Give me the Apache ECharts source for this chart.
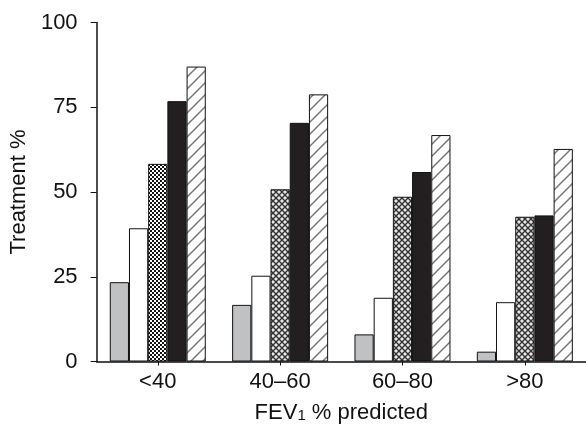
<!DOCTYPE html>
<html><head><meta charset="utf-8">
<script src="https://cdn.jsdelivr.net/npm/echarts@6/dist/echarts.min.js"></script>
<style>html,body{margin:0;padding:0;background:#fff}#c{width:586px;height:430px}</style>
</head><body><div id="c"></div>
<script>
var categories = ['<40', '40\u201360', '60\u201380', '>80'];
var grayVals = [23.4, 16.7, 8.0, 2.9];
var whiteVals = [39.3, 25.3, 18.8, 17.5];
var crossVals = [58.3, 50.8, 48.6, 42.7];
var blackVals = [76.8, 70.4, 55.9, 43.1];
var hatchVals = [87.0, 78.8, 66.8, 62.7];
var yTicks = [0, 25, 50, 75, 100];

var FONT = '"Liberation Sans", Arial, sans-serif';

function makeCanvas(w, h, draw) {
  var c = document.createElement('canvas');
  c.width = w; c.height = h;
  draw(c.getContext('2d'));
  return c;
}
var crossPat = makeCanvas(6, 6, function (g) {
  g.fillStyle = '#e8e8e8'; g.fillRect(0, 0, 6, 6);
  g.strokeStyle = '#333'; g.lineWidth = 1.4;
  g.beginPath();
  g.moveTo(0, 0); g.lineTo(6, 6);
  g.moveTo(6, 0); g.lineTo(0, 6);
  g.stroke();
});
var checkPat = makeCanvas(4, 4, function (g) {
  g.fillStyle = '#fff'; g.fillRect(0, 0, 4, 4);
  g.fillStyle = '#111';
  g.fillRect(0, 0, 2, 2); g.fillRect(2, 2, 2, 2);
});
var hatchPat = makeCanvas(12, 12, function (g) {
  g.fillStyle = '#fff'; g.fillRect(0, 0, 12, 12);
  g.strokeStyle = '#777'; g.lineWidth = 1.5;
  g.beginPath();
  g.moveTo(-1, 13); g.lineTo(13, -1);
  g.moveTo(-1, 1); g.lineTo(1, -1);
  g.moveTo(11, 13); g.lineTo(13, 11);
  g.stroke();
});

function bar(name, vals, color) {
  return {
    name: name, type: 'bar', data: vals,
    barWidth: 19.2, barGap: '0%',
    itemStyle: { color: color, borderColor: '#111', borderWidth: 1 }
  };
}
var crossData = crossVals.map(function (v, i) {
  return i === 0 ? { value: v, itemStyle: { color: { image: checkPat, repeat: 'repeat' } } } : v;
});

var chart = echarts.init(document.getElementById('c'), null, { renderer: 'canvas' });
chart.setOption({
  animation: false,
  backgroundColor: '#fff',
  grid: { left: 92, right: -5, top: 22.5, bottom: 68.5, containLabel: false },
  xAxis: {
    type: 'category', data: categories,
    axisLine: { lineStyle: { color: '#111', width: 1.5 } },
    axisTick: { show: true, alignWithLabel: true, length: 4, lineStyle: { color: '#111' } },
    axisLabel: { color: '#111', fontSize: 22, fontFamily: FONT, margin: 9 },
    name: 'FEV{sub|1} % predicted',
    nameLocation: 'middle', nameGap: 40,
    nameTextStyle: {
      color: '#111', fontSize: 22, fontFamily: FONT,
      rich: { sub: { fontSize: 15, fontFamily: FONT, color: '#111', padding: [6, 0, 0, 0] } }
    }
  },
  yAxis: {
    type: 'value', min: 0, max: 100, interval: 25,
    axisLine: { show: true, lineStyle: { color: '#111', width: 1.5 } },
    axisTick: { show: true, length: 6, lineStyle: { color: '#111' } },
    splitLine: { show: false },
    axisLabel: {
      color: '#111', fontSize: 22, fontFamily: FONT, margin: 19,
      formatter: function (v) { return yTicks.indexOf(v) >= 0 ? String(v) : ''; }
    },
    name: 'Treatment %', nameLocation: 'middle', nameGap: 63, nameRotate: 90,
    nameTextStyle: { color: '#111', fontSize: 22, fontFamily: FONT }
  },
  series: [
    bar('Gray', grayVals, '#c0c1c3'),
    bar('White', whiteVals, '#ffffff'),
    { name: 'Cross', type: 'bar', data: crossData, barWidth: 19.2, barGap: '0%',
      itemStyle: { color: { image: crossPat, repeat: 'repeat' }, borderColor: '#111', borderWidth: 1 } },
    bar('Black', blackVals, '#231f20'),
    bar('Hatched', hatchVals, { image: hatchPat, repeat: 'repeat' })
  ]
});
</script></body></html>
